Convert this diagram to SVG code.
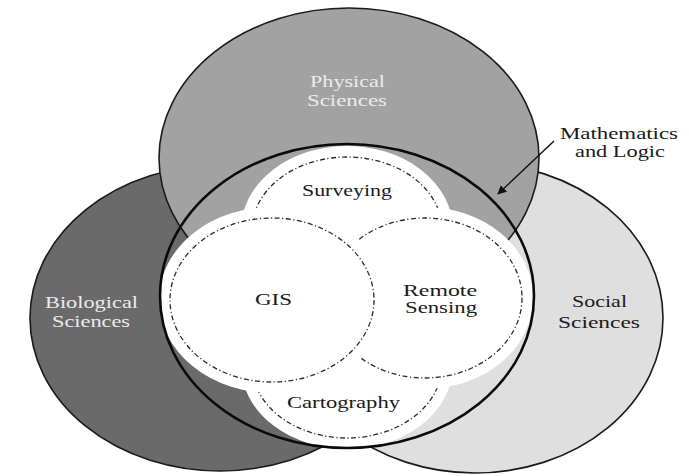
<svg xmlns="http://www.w3.org/2000/svg" width="689" height="476" viewBox="0 0 689 476">
  <style>
    .field { stroke: #1a1a1a; stroke-width: 1.6; }
    .halo { fill: #ffffff; stroke: #ffffff; stroke-width: 22; }
    .dash { fill: none; stroke: #2a2a2a; stroke-width: 1.3; stroke-dasharray: 5 2.5 1.2 2.5; }
    .lbl { font-family: "Liberation Serif", "Times New Roman", serif; font-size: 16px; text-anchor: middle; fill: #1a1a1a; }
    .lbl-light { fill: #ececec; }
  </style>
  <defs>
    <clipPath id="mathClip">
      <ellipse cx="347" cy="296" rx="187" ry="152"/>
    </clipPath>
    <marker id="arrowHead" viewBox="0 0 10 10" refX="9" refY="5" markerWidth="9" markerHeight="9" markerUnits="userSpaceOnUse" orient="auto">
      <path d="M0,0 L10,5 L0,10 Z" fill="#111"/>
    </marker>
  </defs>

  <rect width="689" height="476" fill="#ffffff"/>

  <!-- outer discipline fields -->
  <g id="biological-sciences">
    <ellipse class="field" cx="220" cy="318" rx="190" ry="153" fill="#6a6a6a"/>
  </g>
  <g id="social-sciences">
    <ellipse class="field" cx="475" cy="318" rx="188" ry="155" fill="#dfdfdf"/>
  </g>
  <g id="physical-sciences">
    <ellipse class="field" cx="349" cy="158" rx="190" ry="150" fill="#a2a2a2"/>
  </g>

  <!-- geomatics core, held inside the mathematics ring -->
  <g clip-path="url(#mathClip)">
    <g id="surveying">
      <ellipse class="halo" cx="347" cy="230" rx="95" ry="73"/>
      <ellipse class="dash" cx="347" cy="230" rx="95" ry="73"/>
    </g>
    <g id="cartography">
      <ellipse class="halo" cx="347" cy="365" rx="95" ry="73"/>
      <ellipse class="dash" cx="347" cy="365" rx="95" ry="73"/>
    </g>
    <g id="remote-sensing">
      <ellipse class="halo" cx="425" cy="298" rx="97" ry="80"/>
      <ellipse class="dash" cx="425" cy="298" rx="97" ry="80"/>
    </g>
    <g id="gis">
      <ellipse class="halo" cx="272" cy="300" rx="102" ry="82"/>
      <ellipse class="dash" cx="272" cy="300" rx="102" ry="82"/>
    </g>
  </g>

  <g id="mathematics-logic">
    <ellipse cx="347" cy="296" rx="187" ry="152" fill="none" stroke="#0a0a0a" stroke-width="2.6"/>
  </g>

  <!-- pointer to the mathematics ring -->
  <g id="connectors">
    <line x1="554" y1="141" x2="498" y2="194" stroke="#111" stroke-width="1.4" marker-end="url(#arrowHead)"/>
  </g>

  <!-- labels -->
  <g id="labels">
    <text class="lbl lbl-light" x="347.5" y="87" textLength="75" lengthAdjust="spacingAndGlyphs">Physical</text>
    <text class="lbl lbl-light" x="347" y="106" textLength="80" lengthAdjust="spacingAndGlyphs">Sciences</text>
    <text class="lbl" x="619" y="139" textLength="118" lengthAdjust="spacingAndGlyphs">Mathematics</text>
    <text class="lbl" x="620" y="157" textLength="90" lengthAdjust="spacingAndGlyphs">and Logic</text>
    <text class="lbl" x="347" y="196" textLength="90" lengthAdjust="spacingAndGlyphs">Surveying</text>
    <text class="lbl" x="273.5" y="305" textLength="37" lengthAdjust="spacingAndGlyphs">GIS</text>
    <text class="lbl" x="440" y="296" textLength="74" lengthAdjust="spacingAndGlyphs">Remote</text>
    <text class="lbl" x="441" y="313" textLength="72" lengthAdjust="spacingAndGlyphs">Sensing</text>
    <text class="lbl" x="343.5" y="408" textLength="113" lengthAdjust="spacingAndGlyphs">Cartography</text>
    <text class="lbl lbl-light" x="91.5" y="308" textLength="93" lengthAdjust="spacingAndGlyphs">Biological</text>
    <text class="lbl lbl-light" x="91" y="327" textLength="78" lengthAdjust="spacingAndGlyphs">Sciences</text>
    <text class="lbl" x="599.5" y="307" textLength="55" lengthAdjust="spacingAndGlyphs">Social</text>
    <text class="lbl" x="599" y="328" textLength="82" lengthAdjust="spacingAndGlyphs">Sciences</text>
  </g>
</svg>
